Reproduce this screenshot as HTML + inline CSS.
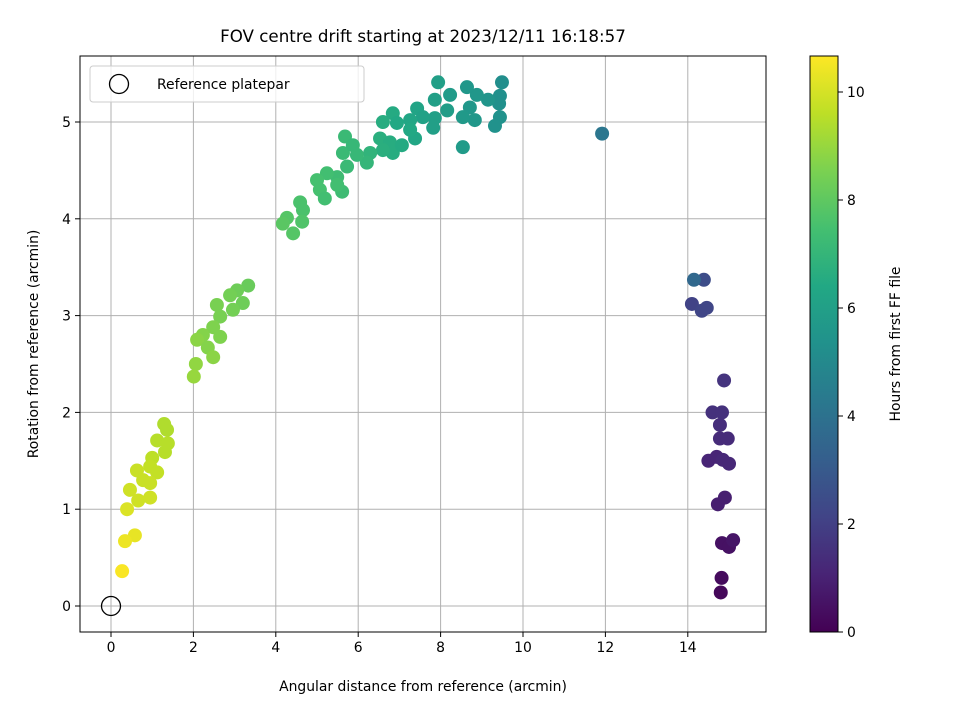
<!DOCTYPE html>
<html><head><meta charset="utf-8"><style>
body{margin:0;background:#fff}
svg{font-family:"DejaVu Sans","Liberation Sans",sans-serif}
</style></head><body>
<svg id="c" width="960" height="720" xmlns="http://www.w3.org/2000/svg">
<defs><linearGradient id="vg" x1="0" y1="1" x2="0" y2="0">
<stop offset="0" stop-color="#440154"/><stop offset="0.1" stop-color="#482475"/><stop offset="0.2" stop-color="#414487"/><stop offset="0.3" stop-color="#355f8d"/><stop offset="0.4" stop-color="#2a788e"/><stop offset="0.5" stop-color="#21918c"/><stop offset="0.6" stop-color="#22a884"/><stop offset="0.7" stop-color="#44bf70"/><stop offset="0.8" stop-color="#7ad151"/><stop offset="0.9" stop-color="#bddf26"/><stop offset="1" stop-color="#fde725"/>
</linearGradient></defs>
<text x="423" y="42" text-anchor="middle" font-size="16.7">FOV centre drift starting at 2023/12/11 16:18:57</text>
<g id="grid"></g><g id="pts"></g><g id="axes"></g>
</svg>
<script>
const xs=[14.8,14.82,14.83,15.0,15.1,14.73,14.9,14.5,14.7,14.85,15.0,14.78,14.97,14.78,14.6,14.83,14.88,14.1,14.34,14.46,14.39,14.15,11.92,
9.49,9.44,9.42,9.44,9.32,9.15,8.88,8.64,8.71,8.83,8.54,8.54,8.23,7.94,7.86,8.16,7.86,7.82,7.43,7.57,7.26,7.38,6.84,6.94,6.6,6.53,6.77,6.84,6.6,7.06,7.26,6.29,6.21,5.97,5.68,5.63,5.87,5.73,5.49,5.24,5.0,5.07,5.19,5.61,5.49,4.59,4.66,4.27,4.64,4.42,4.17,
3.33,3.06,2.89,3.2,2.96,2.57,2.65,2.48,2.65,2.23,2.09,2.35,2.48,2.06,2.01,
1.29,1.36,1.12,1.38,1.31,1.0,0.95,1.12,0.63,0.78,0.95,0.46,0.66,0.95,0.39,0.58,0.34,0.27];
const ys=[0.14,0.29,0.65,0.61,0.68,1.05,1.12,1.50,1.54,1.51,1.47,1.73,1.73,1.87,2.0,2.0,2.33,3.12,3.05,3.08,3.37,3.37,4.88,
5.41,5.27,5.19,5.05,4.96,5.23,5.28,5.36,5.15,5.02,5.05,4.74,5.28,5.41,5.23,5.12,5.04,4.94,5.14,5.05,5.02,4.83,5.09,4.99,5.0,4.83,4.79,4.68,4.71,4.76,4.92,4.68,4.58,4.66,4.85,4.68,4.76,4.54,4.43,4.47,4.40,4.30,4.21,4.28,4.35,4.17,4.09,4.01,3.97,3.85,3.95,
3.31,3.26,3.21,3.13,3.06,3.11,2.99,2.88,2.78,2.80,2.75,2.67,2.57,2.50,2.37,
1.88,1.82,1.71,1.68,1.59,1.53,1.44,1.38,1.40,1.30,1.27,1.20,1.09,1.12,1.0,0.73,0.67,0.36];
const hs=[0.2,0.3,0.5,0.5,0.6,0.9,0.9,1.1,1.1,1.2,1.2,1.3,1.3,1.4,1.5,1.5,1.6,2.1,2.2,2.2,2.5,3.6,4.2,
5.2,5.3,5.3,5.4,5.4,5.5,5.6,5.6,5.6,5.6,5.7,5.8,5.8,6.0,6.0,5.9,6.0,6.0,6.2,6.1,6.3,6.3,6.5,6.4,6.6,6.7,6.6,6.6,6.7,6.5,6.4,6.9,7.0,7.1,7.2,7.2,7.1,7.2,7.3,7.4,7.5,7.5,7.4,7.3,7.4,7.6,7.6,7.8,7.7,7.8,7.9,
8.2,8.3,8.4,8.3,8.4,8.5,8.5,8.6,8.6,8.7,8.8,8.7,8.8,8.9,9.0,
9.4,9.4,9.5,9.5,9.5,9.6,9.7,9.7,9.8,9.8,9.8,9.9,9.9,9.9,10.1,10.3,10.4,10.6];
const xTicks=[0,2,4,6,8,10,12,14], yTicks=[0,1,2,3,4,5], cTicks=[0,2,4,6,8,10];
const L=80,R=766,T=56,B=632;
const X=v=>111+v*41.2, Y=v=>606-v*96.8, CY=v=>632-v*54;
const vir=["#440154","#482475","#414487","#355f8d","#2a788e","#21918c","#22a884","#44bf70","#7ad151","#bddf26","#fde725"];
function hex(h){return [1,3,5].map(i=>parseInt(h.substr(i,2),16));}
function color(h){let t=Math.max(0,Math.min(1,h/10.67))*(vir.length-1);let i=Math.min(Math.floor(t),vir.length-2),f=t-i;
let a=hex(vir[i]),b=hex(vir[i+1]);return "rgb("+a.map((v,k)=>Math.round(v+(b[k]-v)*f)).join(",")+")";}
const NS="http://www.w3.org/2000/svg";
function mk(p,tag,at,txt){const e=document.createElementNS(NS,tag);for(const k in at)e.setAttribute(k,at[k]);if(txt!==undefined)e.textContent=txt;p.appendChild(e);return e;}
const g=document.getElementById('grid'),P=document.getElementById('pts'),A=document.getElementById('axes');
xTicks.forEach(t=>{let e=mk(g,'line',{x1:X(t),x2:X(t),y1:T,y2:B,stroke:'#b0b0b0','stroke-width':1});


mk(A,'line',{x1:X(t),x2:X(t),y1:B,y2:B+5,stroke:'#000'});
let l=mk(A,'text',{x:X(t),y:B+20,'text-anchor':'middle','font-size':13.9},t);

});
yTicks.forEach(t=>{let e=mk(g,'line',{x1:L,x2:R,y1:Y(t),y2:Y(t),stroke:'#b0b0b0','stroke-width':1});


mk(A,'line',{x1:L-5,x2:L,y1:Y(t),y2:Y(t),stroke:'#000'});
let l=mk(A,'text',{x:L-9,y:Y(t)+5,'text-anchor':'end','font-size':13.9},t);

});
xs.forEach((x,i)=>{let c=mk(P,'circle',{cx:X(x),cy:Y(ys[i]),r:7,fill:color(hs[i])});

});
let ref=mk(P,'circle',{cx:X(0),cy:Y(0),r:9.5,fill:'none',stroke:'#000','stroke-width':1.3});


let fr=mk(A,'rect',{x:L,y:T,width:R-L,height:B-T,fill:'none',stroke:'#000','stroke-width':1});


let xl=mk(A,'text',{x:423,y:691,'text-anchor':'middle','font-size':13.9},'Angular distance from reference (arcmin)');


let yl=mk(A,'text',{x:38,y:344,'text-anchor':'middle','font-size':13.9,transform:'rotate(-90 38 344)'},'Rotation from reference (arcmin)');


let lg=mk(A,'g',{});


mk(lg,'rect',{x:90,y:66,width:274,height:36,rx:3,fill:'#fff','fill-opacity':0.8,stroke:'#ccc'});
mk(lg,'circle',{cx:119,cy:84,r:9.5,fill:'none',stroke:'#000','stroke-width':1.3});
let lt=mk(lg,'text',{x:157,y:89,'font-size':13.9},'Reference platepar');


let cb=mk(A,'rect',{x:810,y:56,width:28,height:576,fill:'url(#vg)',stroke:'#000','stroke-width':1});


cTicks.forEach(t=>{mk(A,'line',{x1:838,x2:843,y1:CY(t),y2:CY(t),stroke:'#000'});
let l=mk(A,'text',{x:847,y:CY(t)+5,'font-size':13.9},t);

});
let cl=mk(A,'text',{x:900,y:344,'text-anchor':'middle','font-size':13.9,transform:'rotate(-90 900 344)'},'Hours from first FF file');


</script>
</body></html>
